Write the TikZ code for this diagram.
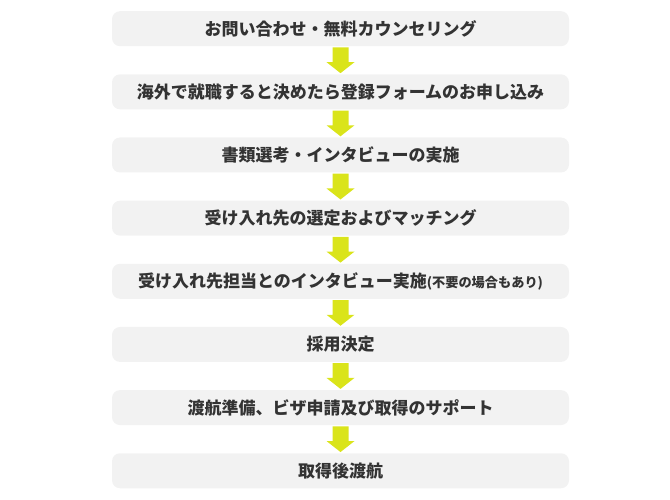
\documentclass[tikz,border=0pt]{standalone}
\usepackage{fontspec}
\newfontfamily\jp{Noto Sans CJK JP}
\usetikzlibrary{calc}
\definecolor{boxfill}{HTML}{F2F2F2}
\definecolor{arrowcol}{HTML}{DAE41A}
\definecolor{txt}{HTML}{333333}
\begin{document}
\begin{tikzpicture}[x=1pt,y=-1pt,
  stepbox/.style={fill=boxfill,rounded corners=8pt,minimum width=457pt,minimum height=35pt,
    inner sep=0pt,text=txt,font=\jp\bfseries\fontsize{17}{19}\selectfont,anchor=north},
  flowarrow/.style={fill=arrowcol,draw=none}]
\useasboundingbox (0,0) rectangle (670,500);
\foreach \i/\t in {0/{お問い合わせ・無料カウンセリング},
                   1/{海外で就職すると決めたら登録フォームのお申し込み},
                   2/{書類選考・インタビューの実施},
                   3/{受け入れ先の選定およびマッチング},
                   4/{受け入れ先担当とのインタビュー実施{\fontsize{13.2}{15}\selectfont(不要の場合もあり)}},
                   5/{採用決定},
                   6/{渡航準備、ビザ申請及び取得のサポート},
                   7/{取得後渡航}}{
  \node[stepbox] (b\i) at (340.5,{11+63.15*\i}) {\t};
}
\foreach \i [evaluate=\i as \j using int(\i+1)] in {0,...,6}{
  \fill[flowarrow] ($(b\i.south)+(-8,1)$) -- ($(b\i.south)+(8,1)$) --
    ($(b\j.north)+(8,-12)$) -- ($(b\j.north)+(14,-12)$) -- ($(b\j.north)+(0,-1)$) --
    ($(b\j.north)+(-14,-12)$) -- ($(b\j.north)+(-8,-12)$) -- cycle;
}
\end{tikzpicture}
\end{document}
